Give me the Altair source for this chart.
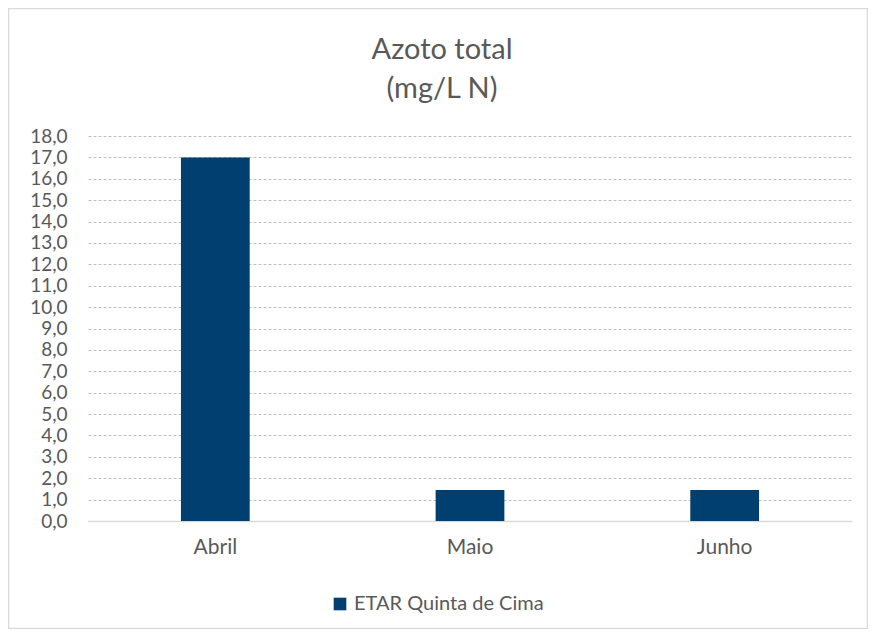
import altair as alt
import pandas as pd

months = ["Abril", "Maio", "Junho"]
values = [17.0, 1.45, 1.45]
series = ["ETAR Quinta de Cima"] * 3
y_ticks = list(range(0, 19))

df = pd.DataFrame({"mes": months, "valor": values, "serie": series})

FONT = "Lato"
TXT = "#595959"

bars = alt.Chart(df).mark_bar(color="#003F6F").encode(
    x=alt.X("mes:N", sort=months, title=None,
            scale=alt.Scale(paddingInner=0.73, paddingOuter=0.365),
            axis=alt.Axis(labelAngle=0, labelFontSize=21, labelColor=TXT, labelFont=FONT,
                          ticks=False, domainColor="#d9d9d9", domainWidth=1.5, labelPadding=15)),
    y=alt.Y("valor:Q", title=None,
            scale=alt.Scale(domain=[0, 18], nice=False),
            axis=alt.Axis(values=y_ticks, labelFontSize=19, labelColor=TXT, labelFont=FONT,
                          labelExpr="replace(format(datum.value, '.1f'), '.', ',')",
                          ticks=False, domain=False, grid=True, gridColor="#bfbfbf",
                          gridDash=[3, 2], gridWidth=1, labelPadding=21)),
    color=alt.Color("serie:N", title=None,
                    scale=alt.Scale(range=["#003F6F"]),
                    legend=alt.Legend(orient="none", legendX=242, legendY=458,
                                      symbolType="square", symbolSize=160,
                                      labelFontSize=20, labelColor=TXT, labelFont=FONT,
                                      labelLimit=400, symbolStrokeWidth=0)),
)

border = alt.Chart(pd.DataFrame({"a": [0]})).mark_rect(
    fill=None, stroke="#d9d9d9", strokeWidth=1.5
).encode(
    x=alt.value(-79.5), x2=alt.value(779.5), y=alt.value(-127.5), y2=alt.value(492.5)
)

chart = alt.layer(border, bars).properties(
    width=764, height=385,
    padding={"left": 80, "top": 128, "right": 16, "bottom": 108},
    autosize=alt.AutoSizeParams(type="none"),
    title=alt.TitleParams(["Azoto total", "(mg/L N)"], fontSize=29, font=FONT,
                          color=TXT, fontWeight="normal", lineHeight=39,
                          anchor="middle", offset=-96, dx=-28),
).configure_view(stroke=None)

chart.save("out.html", embed_options={"renderer": "svg", "actions": False})
